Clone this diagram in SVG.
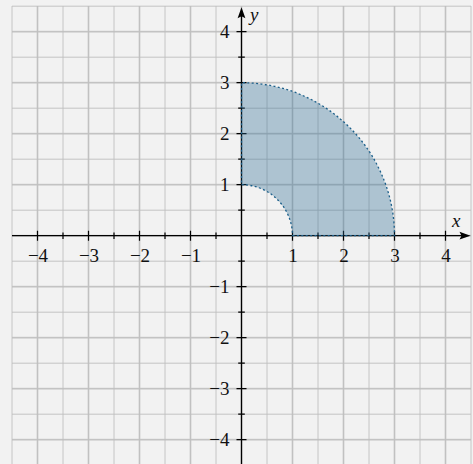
<svg xmlns="http://www.w3.org/2000/svg" width="473" height="464" viewBox="0 0 473 464">
<defs>
<style>
.gmin{stroke:#bfbfbf;stroke-width:0.9;fill:none}
.gmaj{stroke:#cdcdcd;stroke-width:1.8;fill:none}
.axis{stroke:#000;stroke-width:1.3;fill:none}
.tick{stroke:#000;stroke-width:1.2}
.xl{text-anchor:middle}
.yl{text-anchor:end}
</style>
</defs>
<rect x="0" y="0" width="473" height="464" fill="#f2f2f2"/>
<g id="grid">
<path class="gmaj" d="M37.5 6V465M88.5 6V465M139.5 6V465M190.5 6V465M241.5 6V465M292.5 6V465M343.5 6V465M394.5 6V465M445.5 6V465M12 31.7H471M12 82.7H471M12 133.7H471M12 184.7H471M12 235.7H471M12 286.7H471M12 337.7H471M12 388.7H471M12 439.7H471"/>
<path class="gmin" d="M12 6V465M37.5 6V465M63 6V465M88.5 6V465M114 6V465M139.5 6V465M165 6V465M190.5 6V465M216 6V465M241.5 6V465M267 6V465M292.5 6V465M318 6V465M343.5 6V465M369 6V465M394.5 6V465M420 6V465M445.5 6V465M471 6V465"/>
<path class="gmin" d="M12 6.2H471M12 31.7H471M12 57.2H471M12 82.7H471M12 108.2H471M12 133.7H471M12 159.2H471M12 184.7H471M12 210.2H471M12 235.7H471M12 261.2H471M12 286.7H471M12 312.2H471M12 337.7H471M12 363.2H471M12 388.7H471M12 414.2H471M12 439.7H471"/>
</g>
<g id="axes">
<path class="axis" d="M12 235.7H462"/>
<path d="M470.5 235.7L459.5 231.8L461.5 235.7L459.5 239.6Z" fill="#000"/>
<path class="axis" d="M241.5 464V15"/>
<path d="M241.5 7.2L237.6 18.2L241.5 16.2L245.4 18.2Z" fill="#000"/>
<path class="tick" d="M37.5 230.7v10M88.5 230.7v10M139.5 230.7v10M190.5 230.7v10M292.5 230.7v10M343.5 230.7v10M394.5 230.7v10M445.5 230.7v10"/>
<path class="tick" d="M63 232.4v6.6M114 232.4v6.6M165 232.4v6.6M216 232.4v6.6M267 232.4v6.6M318 232.4v6.6M369 232.4v6.6M420 232.4v6.6"/>
<path class="tick" d="M236.5 31.7h10M236.5 82.7h10M236.5 133.7h10M236.5 184.7h10M236.5 286.7h10M236.5 337.7h10M236.5 388.7h10M236.5 439.7h10"/>
<path class="tick" d="M238.2 57.2h6.6M238.2 108.2h6.6M238.2 159.2h6.6M238.2 210.2h6.6M238.2 261.2h6.6M238.2 312.2h6.6M238.2 363.2h6.6M238.2 414.2h6.6"/>
</g>
<g id="region">
<path d="M292.5 235.7H394.5A153 153 0 0 0 241.5 82.7V184.7A51 51 0 0 1 292.5 235.7Z" fill="#2e6e94" fill-opacity="0.35" stroke="#1b5f8a" stroke-width="1.3" stroke-dasharray="2 2.4"/>
</g>
<g id="labels" font-family="'Liberation Serif', 'Times New Roman', serif" font-size="19" fill="#111">
<text class="xl" x="38" y="262">−4</text>
<text class="xl" x="89" y="262">−3</text>
<text class="xl" x="140" y="262">−2</text>
<text class="xl" x="191" y="262">−1</text>
<text class="xl" x="293" y="262">1</text>
<text class="xl" x="344" y="262">2</text>
<text class="xl" x="395" y="262">3</text>
<text class="xl" x="446" y="262">4</text>
<text class="yl" x="229.5" y="38">4</text>
<text class="yl" x="229.5" y="89">3</text>
<text class="yl" x="229.5" y="140">2</text>
<text class="yl" x="229.5" y="191">1</text>
<text class="yl" x="229.5" y="293">−1</text>
<text class="yl" x="229.5" y="344">−2</text>
<text class="yl" x="229.5" y="395">−3</text>
<text class="yl" x="229.5" y="446">−4</text>
<text x="452" y="227" font-style="italic">x</text>
<text x="250" y="21" font-style="italic">y</text>
</g>
</svg>
